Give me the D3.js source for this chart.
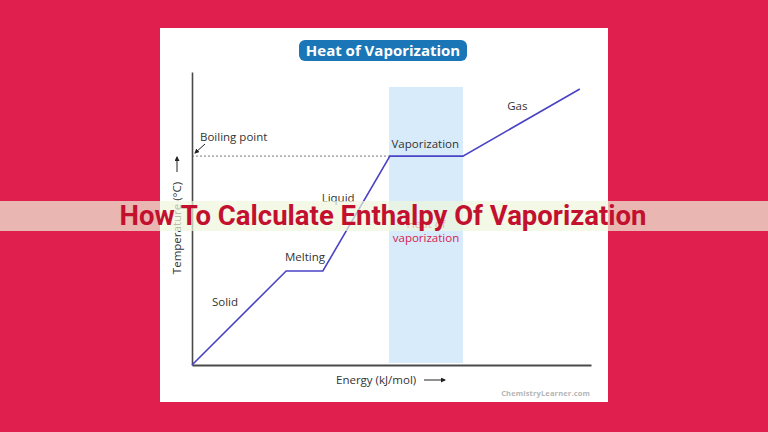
<!DOCTYPE html>
<html><head><meta charset="utf-8">
<script src="https://cdn.jsdelivr.net/npm/d3@7"></script>
<style>html,body{margin:0;padding:0;background:#e01f4f;}svg{display:block}</style>
</head><body>
<svg id="c" width="768" height="432"></svg>
<script>
// Data (abstract units: energy 0-100, temperature 0-100)
const phases = ["Solid", "Melting", "Liquid", "Vaporization", "Gas"];
const energy = [0, 23.6, 32.8, 49.6, 67.9, 97.2];
const temperature = [0, 32.1, 32.1, 71.3, 71.3, 94.2];
const boilingPoint = 71.3;
const bandEnergy = [49.4, 67.9];
const bandTemp = [0, 94.9];
const labelEnergy = [5, 23.3, 32.5, 50, 79];
const labelTemp = [20.1, 35.5, 55.6, 74.2, 87];

const svg = d3.select("#c");
const font = "'Open Sans', 'Noto Sans', sans-serif";
svg.append("rect").attr("width",768).attr("height",432).attr("fill","#e01f4f");
svg.append("rect").attr("x",160).attr("y",28).attr("width",448).attr("height",374).attr("fill","#fff");

const x = d3.scaleLinear().domain([0,100]).range([192,591]);
const y = d3.scaleLinear().domain([0,100]).range([365,72]);

// vaporization band
svg.append("rect")
  .attr("x", x(bandEnergy[0])).attr("width", x(bandEnergy[1]) - x(bandEnergy[0]))
  .attr("y", y(bandTemp[1])).attr("height", y(bandTemp[0]) - 2 - y(bandTemp[1]))
  .attr("fill", "#d8ebfb");

// dashed boiling line
svg.append("line").attr("x1", x(0)).attr("x2", x(energy[3])).attr("y1", y(boilingPoint)).attr("y2", y(boilingPoint))
  .attr("stroke","#555").attr("stroke-width",0.8).attr("stroke-dasharray","2,2");

// axes
const xAxis = d3.axisBottom(x).tickValues([]).tickSizeOuter(0);
const yAxis = d3.axisLeft(y).tickValues([]).tickSizeOuter(0);
svg.append("g").attr("transform","translate(0,365)").call(xAxis)
  .select(".domain").attr("stroke","#4a4a4a").attr("stroke-width",2);
svg.append("g").attr("transform","translate(192,0)").call(yAxis)
  .select(".domain").attr("stroke","#4a4a4a").attr("stroke-width",1.6);

// heating curve
const pts = energy.map((e,i)=>[e, temperature[i]]);
svg.append("path").datum(pts)
  .attr("d", d3.line().x(d=>x(d[0])).y(d=>y(d[1])))
  .attr("fill","none").attr("stroke","#4a43c6").attr("stroke-width",1.6);

// phase labels
phases.forEach((p,i)=>{
  svg.append("text").attr("x", x(labelEnergy[i])).attr("y", y(labelTemp[i]))
    .attr("font-family", font).attr("font-size", 11.5).attr("fill","#333").text(p);
});

// boiling point label & arrow
svg.append("text").attr("x",200).attr("y",141).attr("font-family",font).attr("font-size",11.5).attr("fill","#333").text("Boiling point");
svg.append("defs").html('<marker id="ah" viewBox="0 0 10 10" refX="8" refY="5" markerWidth="5" markerHeight="5" orient="auto"><path d="M0,0L10,5L0,10z" fill="#222"/></marker>');
svg.append("line").attr("x1",205).attr("y1",144).attr("x2",195).attr("y2",153)
  .attr("stroke","#222").attr("stroke-width",1).attr("marker-end","url(#ah)");

// Heat of vaporization label
svg.append("text").attr("x",426).attr("y",228).attr("text-anchor","middle").attr("font-family",font).attr("font-size",11.5).attr("fill","#d6204e").text("Heat of");
svg.append("text").attr("x",426).attr("y",242).attr("text-anchor","middle").attr("font-family",font).attr("font-size",11.5).attr("fill","#d6204e").text("vaporization");

// y label
svg.append("text").attr("transform","translate(181,228) rotate(-90)").attr("text-anchor","middle")
  .attr("font-family",font).attr("font-size",11.5).attr("fill","#333").text("Temperature (°C)");
svg.append("line").attr("x1",177).attr("y1",172).attr("x2",177).attr("y2",157)
  .attr("stroke","#222").attr("stroke-width",1).attr("marker-end","url(#ah)");

// x label
svg.append("text").attr("x",336).attr("y",384).attr("font-family",font).attr("font-size",11.5).attr("fill","#333").text("Energy (kJ/mol)");
svg.append("line").attr("x1",424).attr("y1",380).attr("x2",445).attr("y2",380)
  .attr("stroke","#222").attr("stroke-width",1).attr("marker-end","url(#ah)");

// watermark
svg.append("text").attr("x",590).attr("y",396).attr("text-anchor","end").attr("font-family",font).attr("font-size",7.5).attr("font-weight","bold").attr("letter-spacing",0.15).attr("fill","#b5b5b5").text("ChemistryLearner.com");

// title pill
svg.append("rect").attr("x",299).attr("y",40).attr("width",168).attr("height",21).attr("rx",6).attr("fill","#1a76b6");
svg.append("text").attr("x",383).attr("y",56).attr("text-anchor","middle").attr("font-family",font).attr("font-size",15).attr("font-weight","bold").attr("fill","#fff").text("Heat of Vaporization");

// banner
svg.append("rect").attr("x",0).attr("y",201).attr("width",768).attr("height",30).attr("fill","rgba(238,246,220,0.7)");
svg.append("text").attr("x",383).attr("y",225).attr("text-anchor","middle").attr("font-family","Roboto, sans-serif").attr("font-weight","bold").attr("font-size",27.5).attr("fill","#c3102f").text("How To Calculate Enthalpy Of Vaporization");
</script>
</body></html>
